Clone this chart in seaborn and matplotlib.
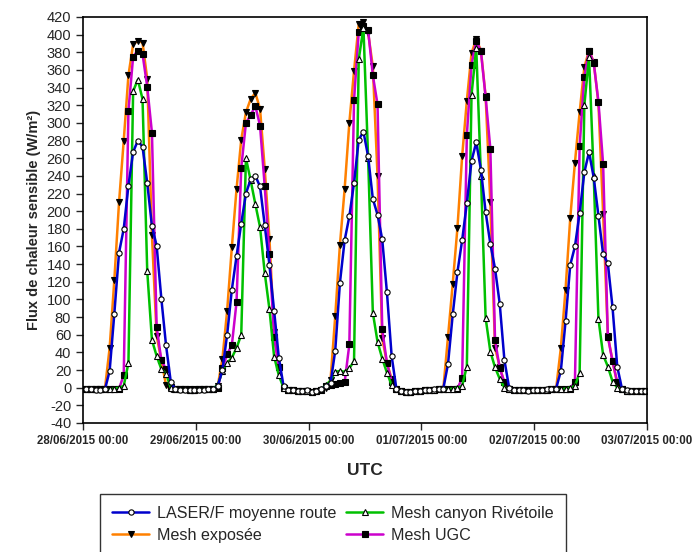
import pandas as pd
import matplotlib
matplotlib.use("Agg")
import matplotlib.pyplot as plt
import matplotlib.dates as mdates
import seaborn as sns

sns.set_style("ticks")
plt.rcParams['font.family'] = ['Liberation Sans', 'DejaVu Sans']
plt.rcParams['axes.unicode_minus'] = False

# hourly values, 28/06/2015 -> 02/07/2015 (24 values per day)
laser = [
    -2, -2, -3, -3, -2, 19, 84, 153, 180, 229, 267, 280, 273, 232, 183, 161, 101, 48, 7, -2, -3, -3, -3, -3,
    -3, -3, -2, -2, 2, 20, 60, 111, 149, 186, 220, 236, 240, 228, 184, 139, 87, 34, 2, -3, -3, -4, -4, -3,
    -5, -4, -2, 2, 5, 42, 119, 167, 194, 232, 281, 290, 262, 214, 196, 168, 108, 36, -1, -4, -5, -5, -4, -4,
    -3, -3, -2, -2, -1, 27, 83, 131, 167, 209, 257, 278, 247, 199, 163, 135, 95, 31, 0, -3, -3, -3, -4, -3,
    -3, -3, -2, -2, -1, 19, 75, 139, 160, 198, 244, 267, 238, 195, 151, 141, 91, 24, -1, -3, -4, -4, -4, -4,
]
mesh_exposee = [
    -2, -2, -2, -2, -1, 45, 122, 210, 280, 354, 389, 393, 391, 350, 173, 59, 31, 3, -2, -2, -2, -2, -2, -2,
    -2, -2, -2, -2, 2, 33, 87, 159, 225, 281, 312, 327, 334, 316, 248, 169, 63, 23, 0, -3, -3, -4, -4, -4,
    -5, -4, -3, 0, 9, 81, 162, 225, 300, 359, 412, 414, 402, 364, 240, 56, 28, 10, -2, -4, -5, -5, -4, -4,
    -3, -3, -3, -2, -1, 58, 118, 181, 262, 325, 379, 395, 382, 330, 210, 45, 24, 5, -2, -3, -3, -3, -3, -3,
    -3, -3, -3, -2, -1, 45, 111, 192, 255, 312, 363, 382, 369, 322, 197, 59, 30, 5, -2, -4, -4, -4, -4, -4,
]
mesh_canyon = [
    -2, -2, -2, -2, -2, -2, -1, 0, 2, 28, 336, 349, 327, 132, 54, 36, 21, 16, 0, -2, -2, -2, -3, -3,
    -2, -2, -2, -1, 3, 19, 28, 34, 45, 60, 260, 235, 208, 182, 130, 89, 35, 14, 0, -3, -3, -4, -4, -4,
    -5, -4, -2, 3, 8, 18, 19, 18, 22, 30, 372, 408, 260, 85, 52, 33, 17, 3, -2, -4, -5, -5, -4, -4,
    -3, -3, -3, -2, -2, -2, -1, 0, 2, 24, 332, 385, 240, 79, 41, 23, 10, 0, -2, -3, -3, -3, -3, -3,
    -3, -3, -3, -2, -2, -2, -1, 0, 2, 17, 320, 375, 240, 78, 37, 24, 7, 0, -2, -4, -4, -4, -4, -4,
]
mesh_ugc = [
    -2, -2, -2, -2, -2, -2, -2, -1, 14, 314, 375, 382, 378, 341, 289, 69, 31, 21, 1, -2, -2, -2, -3, -3,
    -2, -2, -2, -2, 0, 22, 38, 48, 97, 249, 300, 309, 319, 297, 228, 151, 57, 23, 0, -3, -3, -4, -4, -4,
    -5, -4, -3, 2, 3, 4, 5, 6, 49, 326, 403, 410, 405, 354, 321, 66, 28, 7, -2, -4, -5, -5, -4, -4,
    -3, -3, -3, -2, -2, -2, -1, -1, 11, 286, 366, 393, 381, 329, 271, 54, 22, 6, -2, -3, -3, -3, -3, -3,
    -3, -3, -3, -2, -2, -2, -1, -1, 7, 274, 352, 382, 368, 324, 253, 58, 30, 6, -2, -4, -4, -4, -4, -4,
]
times = pd.date_range("2015-06-28 00:40", periods=len(laser), freq="h")

series = [
    ("Mesh exposée", mesh_exposee, "#ff8000", "v", "black", 4.5),
    ("Mesh UGC", mesh_ugc, "#cc00cc", "s", "black", 4.0),
    ("Mesh canyon Rivétoile", mesh_canyon, "#00c000", "^", "white", 4.0),
    ("LASER/F moyenne route", laser, "#0000cc", "o", "white", 3.8),
]

fig = plt.figure(figsize=(6.93, 5.52), dpi=100)
ax = fig.add_axes([83 / 693, 1 - 423 / 552, 564 / 693, 406 / 552])

for name, vals, col, mk, face, ms in series:
    sns.lineplot(x=times, y=vals, ax=ax, color=col, linewidth=1.8, marker=mk,
                 markersize=ms, markerfacecolor=face, markeredgecolor="black",
                 markeredgewidth=0.8, label=name, legend=False)

ax.set_xlim(pd.Timestamp("2015-06-28"), pd.Timestamp("2015-07-03"))
ax.set_ylim(-40, 420)
ax.set_yticks(range(-40, 421, 20))
ax.xaxis.set_major_locator(mdates.DayLocator())
ax.xaxis.set_major_formatter(mdates.DateFormatter("%d/%m/%Y %H:%M"))
ax.tick_params(axis="y", labelsize=10.5, length=5, width=1, direction="out")
ax.tick_params(axis="x", labelsize=8.3, length=5, width=1, direction="out")
for lab in ax.get_xticklabels():
    lab.set_fontweight("bold")
for sp in ax.spines.values():
    sp.set_linewidth(1.2)
    sp.set_color("black")

ax.set_ylabel("Flux de chaleur sensible (W/m²)", fontsize=10.5, fontweight="bold", labelpad=4)
ax.set_xlabel("UTC", fontsize=12.5, fontweight="bold", labelpad=12)

handles, labels = ax.get_legend_handles_labels()
order = [3, 0, 2, 1]
fig.legend([handles[i] for i in order], [labels[i] for i in order],
           loc="upper left", bbox_to_anchor=(100 / 693, 1 - 494 / 552), ncol=2,
           fontsize=11.6, frameon=True, fancybox=False, edgecolor="black",
           handlelength=2.3, columnspacing=0.6, handletextpad=0.5,
           borderpad=0.75, labelspacing=0.4, borderaxespad=0)
fig.legends[0].get_frame().set_linewidth(1.0)

fig.savefig("out.png", dpi=100)
